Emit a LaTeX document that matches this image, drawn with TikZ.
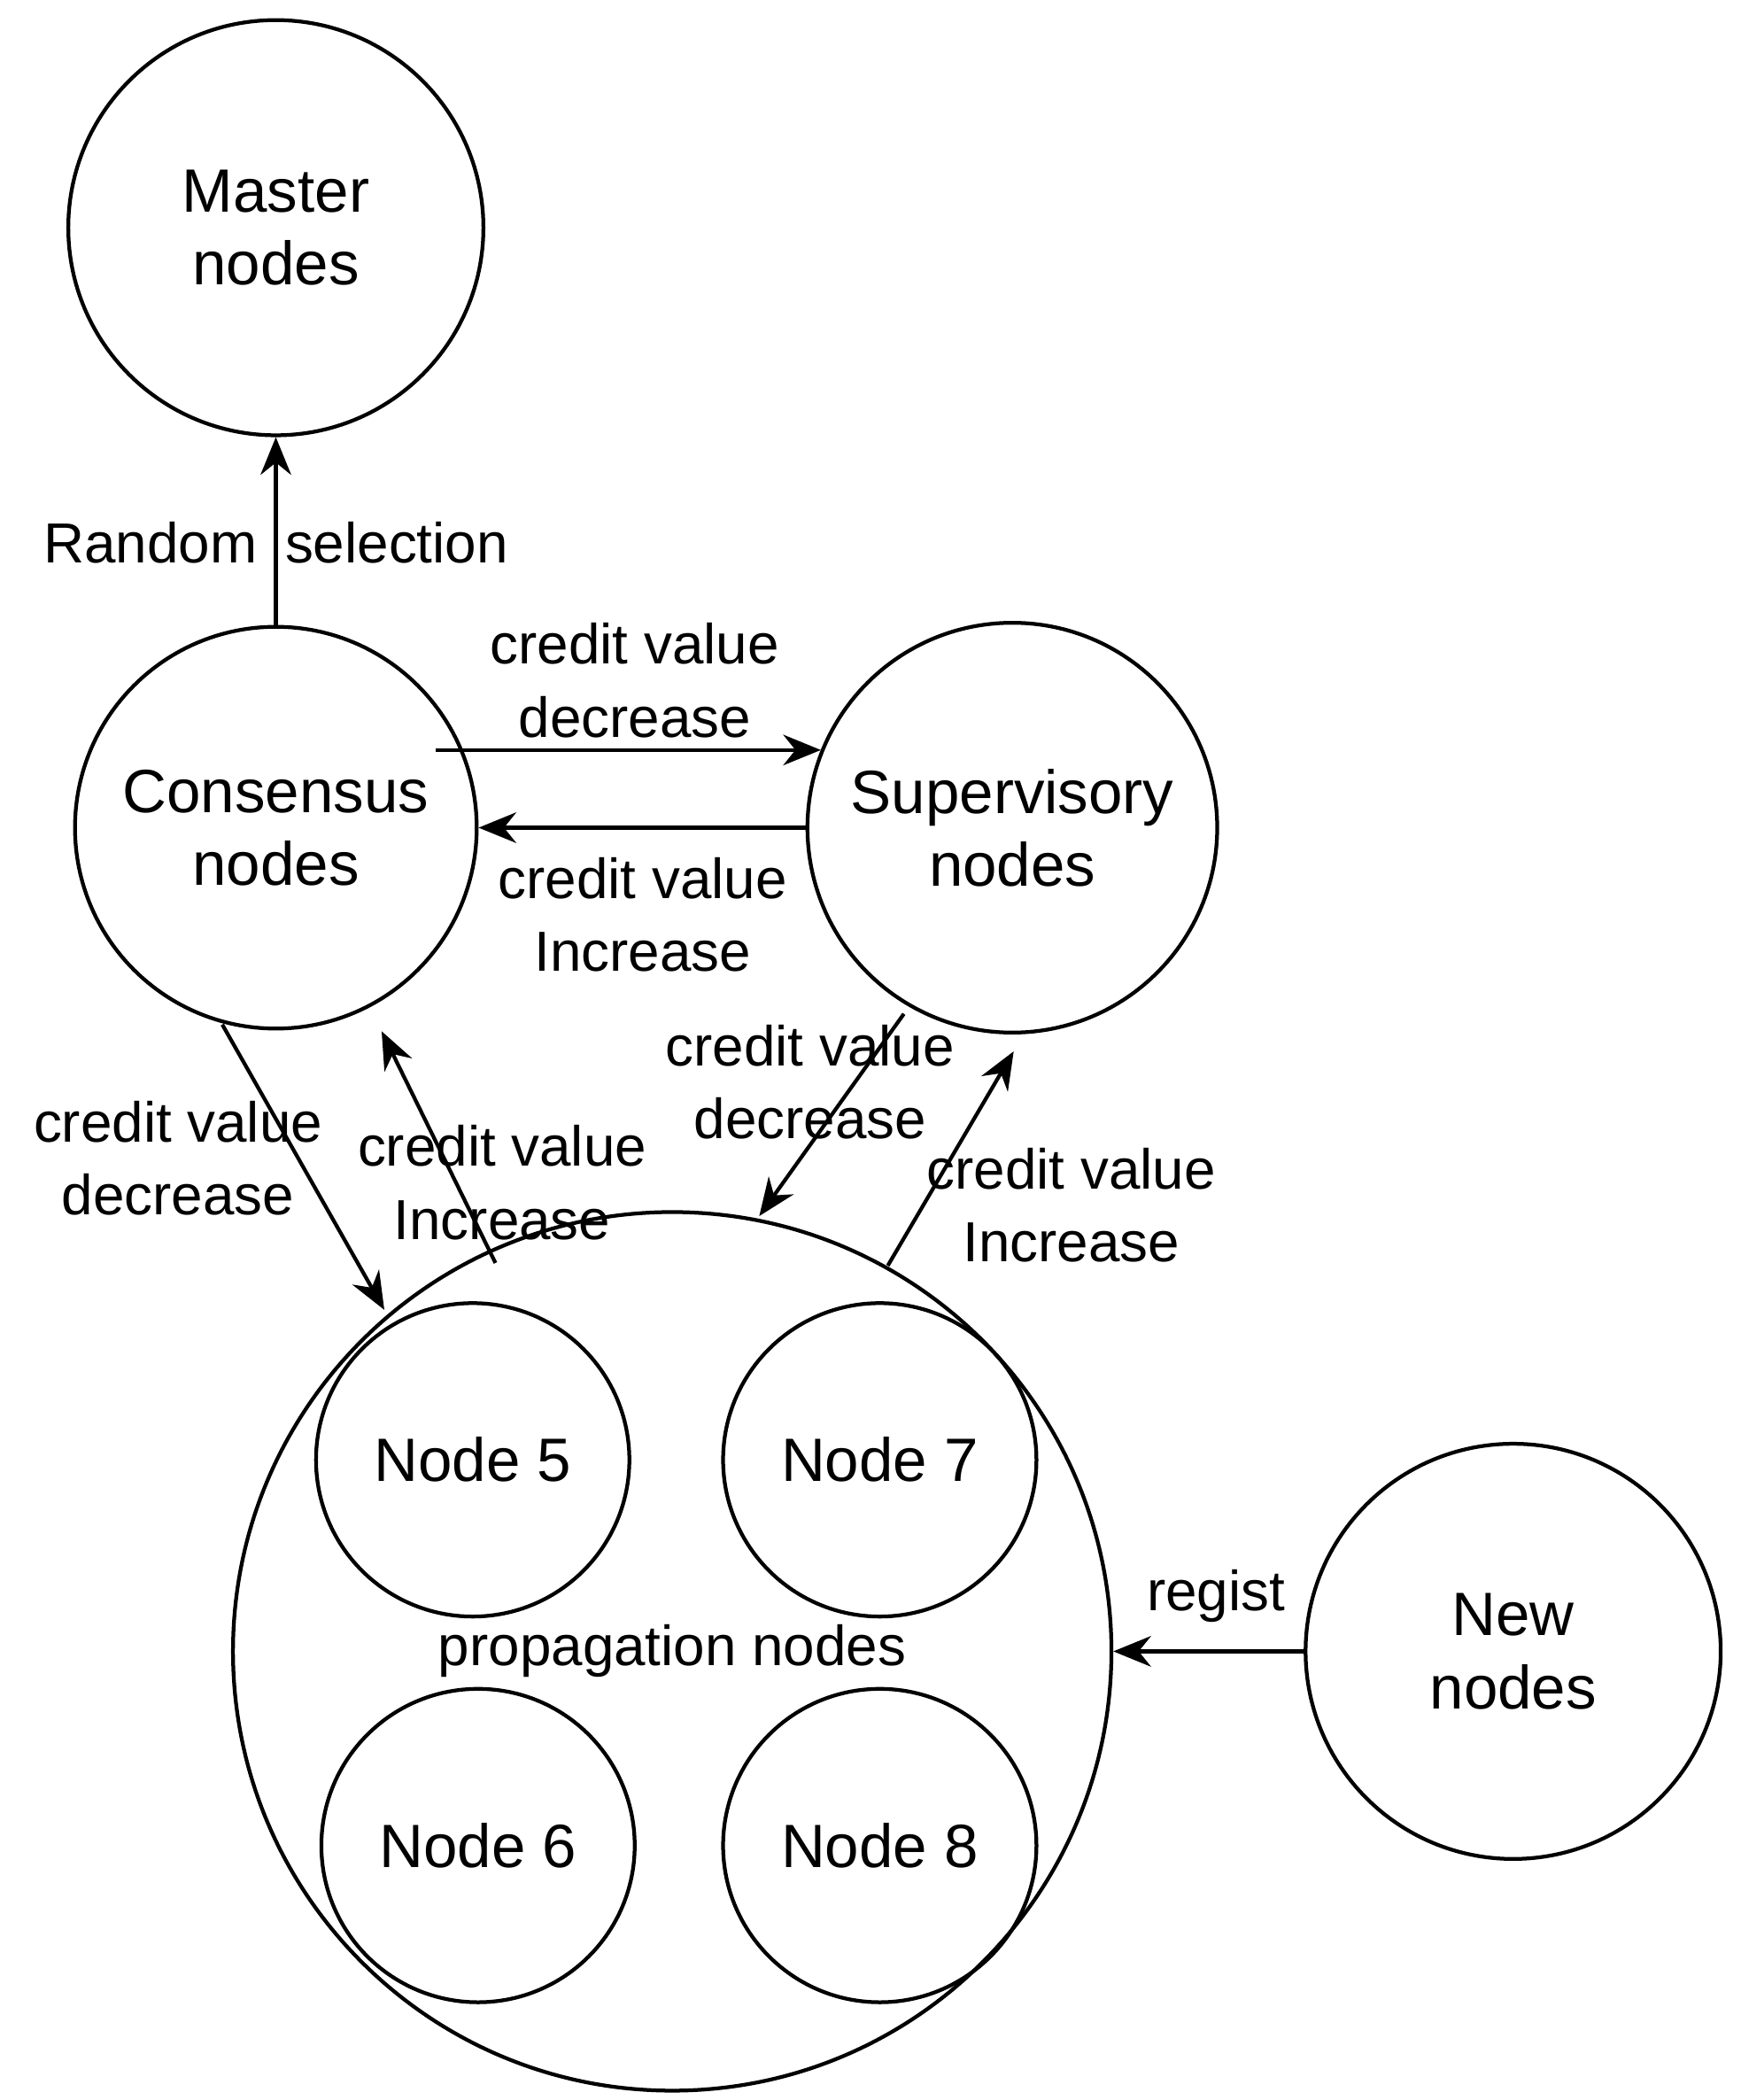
\documentclass[tikz,border=0pt]{standalone}
\usepackage{fontspec}
\setmainfont{Liberation Sans}
\usetikzlibrary{arrows.meta}
\begin{document}
\begin{tikzpicture}[x=0.02cm,y=-0.02cm,
  c/.style={circle,draw,line width=1.6pt,inner sep=0pt,align=center,font=\fontsize{26}{31}\selectfont},
  a/.style={line width=1.6pt,-{Stealth[length=16pt,width=13pt]}},
  l/.style={align=center,font=\fontsize{24}{31}\selectfont,inner sep=0pt}]
\useasboundingbox (0,0) rectangle (1300,1568);
\node[c,minimum size=310*0.02cm] (master) at (206,170) {Master\\nodes};
\node[c,minimum size=300*0.02cm] (cons) at (206,618) {Consensus\\nodes};
\node[c,minimum size=306*0.02cm] (sup) at (756,618) {Supervisory\\nodes};
\node[c,minimum size=656*0.02cm] (prop) at (502,1233) {};
\node[l,font=\fontsize{24}{31}\selectfont] (pl) at (502,1233) {propagation nodes};
\node[c,minimum size=234*0.02cm] (n5) at (353,1090) {Node 5};
\node[c,minimum size=234*0.02cm] (n7) at (657,1090) {Node 7};
\node[c,minimum size=234*0.02cm] (n6) at (357,1378) {Node 6};
\node[c,minimum size=234*0.02cm] (n8) at (657,1378) {Node 8};
\node[c,minimum size=310*0.02cm] (new) at (1130,1233) {New\\nodes};
\coordinate (m1) at (206,468); \coordinate (m2) at (206,322);
\draw[a] (cons.north) -- (master.south);
\node[l] at (206,405) {Random\hspace{0.5em}selection};
\draw[a] (cons.north east |- 0,560) ++(12,0) coordinate (cs1) -- (613,560) coordinate (cs2);
\node[l] at (474,508) {credit value\\decrease};
\draw[a] (sup.west) -- (cons.east);
\node[l] at (480,683) {credit value\\Increase};
\coordinate (p1) at (287,978); \coordinate (c1) at (166,765);
\draw[a] (c1) -- (p1);
\node[l] at (133,865) {credit value\\decrease};
\coordinate (p2) at (370,943); \coordinate (c2) at (285,770);
\draw[a] (p2) -- (c2);
\node[l] at (375,883) {credit value\\Increase};
\coordinate (s1) at (675,757); \coordinate (p3) at (567,908);
\draw[a] (s1) -- (p3);
\node[l] at (605,808) {credit value\\decrease};
\coordinate (p4) at (663,945); \coordinate (s2) at (757,785);
\draw[a] (p4) -- (s2);
\node[l] at (800,900) {credit value\\Increase};
\draw[a] (new.west) -- (prop.east);
\node[l] at (908,1192) {regist};
\end{tikzpicture}
\end{document}
